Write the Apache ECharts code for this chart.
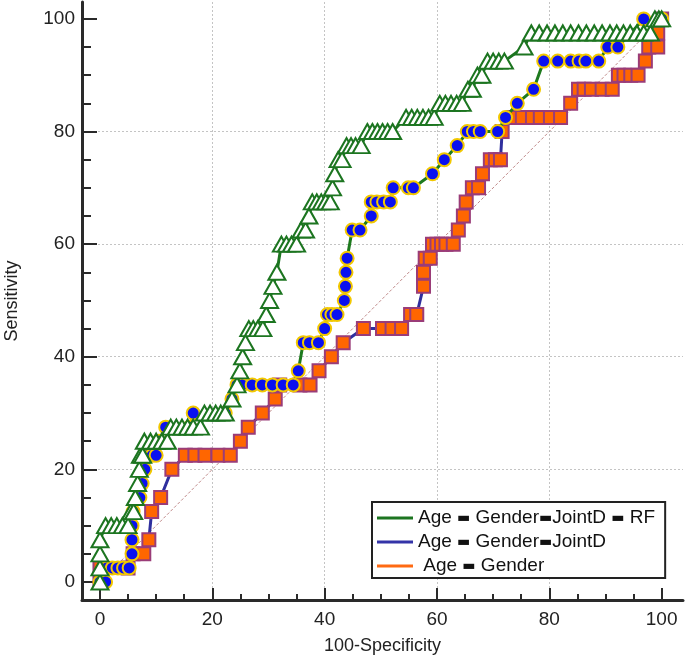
<!DOCTYPE html>
<html><head><meta charset="utf-8">
<script src="https://cdn.jsdelivr.net/npm/echarts@6/dist/echarts.min.js"></script>
<style>html,body{margin:0;padding:0;background:#fff}#c{width:685px;height:659px}</style>
</head><body><div id="c"></div>
<script>
// ---- data ----
const seriesNames = ['Age-Gender-JointD-RF', 'Age-Gender-JointD', 'Age-Gender'];
const majorTicks = [0, 20, 40, 60, 80, 100];
const minorTicks = [5, 10, 15, 25, 30, 35, 45, 50, 55, 65, 70, 75, 85, 90, 95];

// Age-Gender-JointD-RF (triangles): [100-Specificity, Sensitivity]
const rfPoints = [
  [0,0],[0,2.5],[0,5],[0,7.5],[1,10],[2,10],[3,10],[4,10],[5,10],[5.5,12.5],[6,12.5],
  [6.3,15],[6.7,17.5],[7,20],[7.2,22.5],[7.6,22.5],[7.9,25],[9,25],[10,25],[11,25],[12,25],
  [12.6,27.5],[13.6,27.5],[14.6,27.5],[15.6,27.5],[16.6,27.5],[17.9,27.5],
  [18.6,30],[19.6,30],[20.6,30],[21.5,30],[22.3,30],[23.5,32.5],[24.4,35],[24.9,37.5],
  [25.4,40],[25.9,42.5],[26.5,45],[27.3,45],[28.1,45],[29,45],[29.6,47.5],[30.2,50],
  [30.8,52.5],[31.5,55],[32.3,60],[33.2,60],[34.1,60],[35,60],[35.8,62.5],[36.6,62.5],
  [37.2,65],[37.8,67.5],[38.6,67.5],[39.4,67.5],[40.2,67.5],[41,67.5],[41.4,70],[41.8,72.5],
  [42.4,75],[43.1,75],[43.9,77.5],[44.7,77.5],[45.5,77.5],[46.5,77.5],
  [47.6,80],[48.5,80],[49.4,80],[50.3,80],[51.2,80],[52.1,80],
  [54.5,82.5],[55.5,82.5],[56.5,82.5],[57.5,82.5],[58.5,82.5],[59.5,82.5],
  [60.5,85],[61.5,85],[62.5,85],[63.5,85],[64.5,85],[65.5,87.5],[66.3,87.5],
  [67.2,90],[68,90],[69,92.5],[70,92.5],[71,92.5],[72,92.5],[75.5,95],
  [76.8,97.5],[78.2,97.5],[79.6,97.5],[81,97.5],[82.4,97.5],[83.8,97.5],[85.2,97.5],
  [86.6,97.5],[88,97.5],[89.4,97.5],[90.8,97.5],[92,97.5],[93.2,97.5],[94.4,97.5],
  [95.6,97.5],[96.8,97.5],[98,97.5],[98.8,100],[99.5,100],[100,100]
];

// Age-Gender-JointD (circles)
const jointPoints = [
  [0,0],[1,0],[1.2,2.5],[2.2,2.5],[3.2,2.5],[4.2,2.5],[5.2,2.5],[5.7,5],[5.7,7.5],[5.7,10],
  [5.9,12.5],[7.1,15],[7.5,17.5],[8,20],[8.6,22.5],[9.3,22.5],[10,22.5],[10.5,25],
  [11.7,27.5],[16,27.5],[16.6,30],[22.3,30],[23.5,32.5],[24.4,35],[25.3,35],[27.1,35],
  [28.9,35],[30.7,35],[32.6,35],[34.4,35],[35.3,37.5],[36.2,42.5],[37.3,42.5],[38.9,42.5],
  [40,45],[40.5,47.5],[41.3,47.5],[42.2,47.5],[43.5,50],[43.7,52.5],[43.8,55],[44,57.5],
  [44.9,62.5],[46.3,62.5],[48.3,65],[48.3,67.5],[49.3,67.5],[50.5,67.5],[51.7,67.5],
  [52.2,70],[54.9,70],[55.8,70],[59.2,72.5],[61.3,75],[63.6,77.5],[65.4,80],[66.5,80],
  [67.7,80],[70.8,80],[72.2,82.5],[74.3,85],[77.2,87.5],[79,92.5],[81.5,92.5],[83.8,92.5],
  [85.3,92.5],[86.5,92.5],[88.8,92.5],[90.4,95],[92.2,95],[96.8,100],[100,100]
];

// Age-Gender (squares)
const agPoints = [
  [0,0],[0,2.5],[5,2.5],[5.9,5],[7.8,5],[8.7,7.5],[9.2,12.5],[10.8,15],[12.8,20],
  [15.2,22.5],[16.9,22.5],[18.7,22.5],[21,22.5],[23.2,22.5],[25,25],[26.4,27.5],[28.9,30],
  [31.2,32.5],[32,35],[35.6,35],[37.4,35],[39,37.5],[41.2,40],[43.3,42.5],[46.9,45],
  [50.3,45],[52,45],[53.7,45],[55.3,47.5],[56.4,47.5],[57.6,52.5],[57.6,55],[57.9,57.5],
  [58.8,57.5],[59.2,60],[60,60],[60.8,60],[61.6,60],[62.9,60],[63.8,62.5],[64.7,65],
  [65.2,67.5],[66.3,70],[67.4,70],[68.1,72.5],[69.5,75],[70.4,75],[71.3,75],[71.6,80],
  [73.6,82.5],[75.2,82.5],[77,82.5],[78.4,82.5],[80.2,82.5],[82,82.5],[83.8,85],
  [85.2,87.5],[86.2,87.5],[87.5,87.5],[89.4,87.5],[91.2,87.5],[92.3,90],[93.3,90],
  [94.5,90],[95.8,90],[97.1,92.5],[97.7,95],[99.3,95],[99.3,97.5],[100,100]
];

const diagonal = [[0,0],[100,100]];

// ---- chart ----
const FONT = '"Liberation Sans", Arial, sans-serif';
const axisColor = '#2a2a2a';
const chart = echarts.init(document.getElementById('c'), null, {renderer: 'canvas'});
const X_MIN = -3.2, X_MAX = 103.8, Y_MIN = -3.2, Y_MAX = 103;
const gridLine = {show: true, showMinLine: false, showMaxLine: false,
  lineStyle: {color: '#c4c4c4', type: [2, 2], width: 1}};
const legendLabels = {
  'Age-Gender-JointD-RF': 'Age {d|▬} Gender{d|▬}JointD {d|▬} RF',
  'Age-Gender-JointD': 'Age {d|▬} Gender{d|▬}JointD',
  'Age-Gender': ' Age {d|▬} Gender'
};

chart.setOption({
  animation: false,
  backgroundColor: '#fff',
  grid: {left: 82, right: 2, top: 2, bottom: 59, containLabel: false, outerBoundsMode: 'none'},
  xAxis: [{
    type: 'value', min: X_MIN, max: X_MAX, position: 'bottom',
    name: '100-Specificity', nameLocation: 'middle', nameGap: 37,
    nameTextStyle: {fontSize: 18, color: '#222', fontFamily: FONT},
    axisLine: {show: true, onZero: false, lineStyle: {color: axisColor, width: 3}},
    axisTick: {show: true, inside: true, length: 12, customValues: majorTicks, lineStyle: {color: axisColor, width: 2}},
    axisLabel: {customValues: majorTicks, fontSize: 19, color: '#222', margin: 10, fontFamily: FONT},
    splitLine: gridLine
  }, {
    type: 'value', min: X_MIN, max: X_MAX, position: 'bottom',
    axisLine: {show: false, onZero: false},
    axisTick: {show: true, inside: true, length: 6, customValues: minorTicks, lineStyle: {color: axisColor, width: 2}},
    axisLabel: {show: false}, splitLine: {show: false}
  }],
  yAxis: [{
    type: 'value', min: Y_MIN, max: Y_MAX, position: 'left',
    name: 'Sensitivity', nameLocation: 'middle', nameGap: 61,
    nameTextStyle: {fontSize: 18, color: '#222', fontFamily: FONT},
    axisLine: {show: true, onZero: false, lineStyle: {color: axisColor, width: 3}},
    axisTick: {show: true, inside: true, length: 15, customValues: majorTicks, lineStyle: {color: axisColor, width: 2}},
    axisLabel: {customValues: majorTicks, fontSize: 19, color: '#222', margin: 7, fontFamily: FONT},
    splitLine: gridLine
  }, {
    type: 'value', min: Y_MIN, max: Y_MAX, position: 'left',
    axisLine: {show: false, onZero: false},
    axisTick: {show: true, inside: true, length: 9, customValues: minorTicks, lineStyle: {color: axisColor, width: 2}},
    axisLabel: {show: false}, splitLine: {show: false}
  }],
  legend: {
    orient: 'vertical', left: 372, top: 502, selectedMode: false,
    padding: [6, 10, 2, 5], itemGap: 4, itemWidth: 36, itemHeight: 3,
    borderColor: '#222', borderWidth: 2, backgroundColor: '#fff',
    textStyle: {fontSize: 19, color: '#111', fontFamily: FONT, lineHeight: 20,
      rich: {d: {fontSize: 14, color: '#111', fontFamily: 'DejaVu Sans', fontWeight: 'bold'}}},
    formatter: n => legendLabels[n],
    data: [
      {name: seriesNames[0], icon: 'rect', itemStyle: {color: '#1c7520', borderWidth: 0}},
      {name: seriesNames[1], icon: 'rect', itemStyle: {color: '#3434a8', borderWidth: 0}},
      {name: seriesNames[2], icon: 'rect', itemStyle: {color: '#ff6a13', borderWidth: 0}}
    ]
  },
  series: [
    {type: 'line', data: diagonal, symbol: 'none', silent: true, z: 1,
     lineStyle: {color: '#c08a8a', width: 1, type: [3, 2]}},
    {name: seriesNames[2], type: 'line', data: agPoints, z: 2, showAllSymbol: true,
     symbol: 'rect', symbolSize: 13,
     itemStyle: {color: '#ff6600', borderColor: '#9a3c78', borderWidth: 2},
     lineStyle: {color: '#2f2f9e', width: 3}},
    {name: seriesNames[1], type: 'line', data: jointPoints, z: 3, showAllSymbol: true,
     symbol: 'circle', symbolSize: 13,
     itemStyle: {color: '#0a10f0', borderColor: '#f2c800', borderWidth: 2},
     lineStyle: {color: '#1e7a1e', width: 3}},
    {name: seriesNames[0], type: 'line', data: rfPoints, z: 4, showAllSymbol: true,
     symbol: 'triangle', symbolSize: [17, 15],
     itemStyle: {color: '#ffffff', borderColor: '#1c7520', borderWidth: 2},
     lineStyle: {color: '#1c7520', width: 3}}
  ]
});
</script></body></html>
